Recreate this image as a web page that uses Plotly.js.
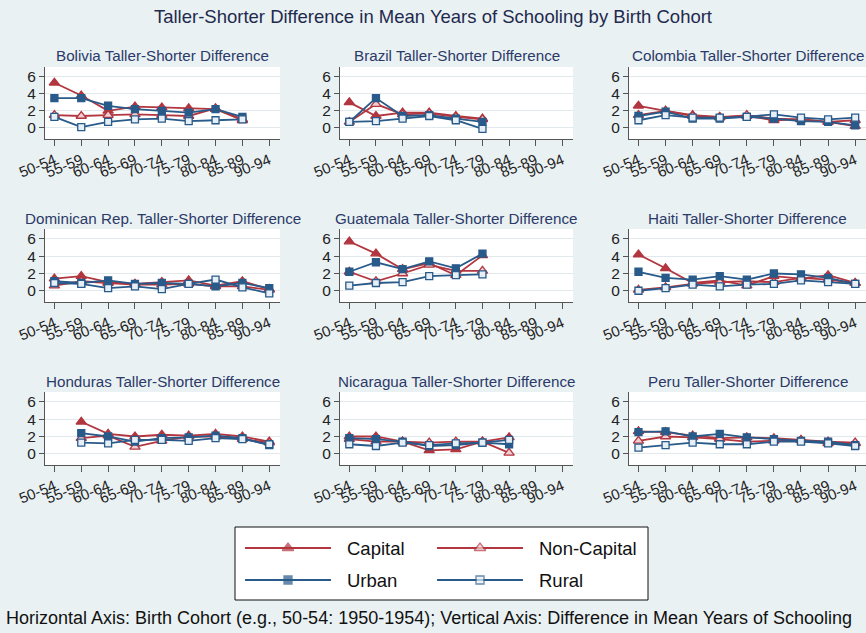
<!DOCTYPE html>
<html><head><meta charset="utf-8">
<script src="https://cdn.plot.ly/plotly-3.0.1.min.js"></script>
<style>html,body{margin:0;padding:0;background:#eaf1f3}</style>
</head><body><div id="chart" style="width:866px;height:633px"></div>
<script>
const cohorts = ['50-54','55-59','60-64','65-69','70-74','75-79','80-84','85-89','90-94'];
const countries = ['Bolivia','Brazil','Colombia','Dominican Rep.','Guatemala','Haiti','Honduras','Nicaragua','Peru'];
const seriesNames = ['Capital','Non-Capital','Urban','Rural'];
const N = null;

// values per country (rows follow `countries`), columns follow `cohorts`
const capitalValues = [
  [5.3, 3.8, 2.0, 2.5, 2.4, 2.3, 2.2, 0.9, N],
  [3.0, 1.4, 1.8, 1.8, 1.4, 1.1, N, N, N],
  [2.6, 2.0, 1.5, 1.3, 1.4, 0.9, 1.0, 0.7, 0.2],
  [1.4, 1.7, 1.0, 0.8, 1.0, 1.2, 0.6, 1.1, 0.2],
  [5.7, 4.3, 2.5, 3.2, 1.8, 4.1, N, N, N],
  [4.2, 2.6, 0.9, 1.2, 0.6, 1.7, 1.4, 1.8, 0.9],
  [N, 3.7, 2.3, 2.0, 2.2, 2.1, 2.3, 2.0, 1.4],
  [2.0, 2.0, 1.4, 0.4, 0.5, 1.4, 1.9, N, N],
  [2.6, 2.5, 2.1, 1.8, 1.9, 1.8, 1.6, 1.2, 1.2]
];
const nonCapitalValues = [
  [1.5, 1.4, 1.5, 1.6, 1.5, 1.4, 2.3, 1.0, N],
  [0.7, 2.8, 1.6, 1.7, 1.3, 1.0, N, N, N],
  [1.5, 2.0, 1.4, 1.2, 1.5, 1.1, 1.0, 0.7, 0.9],
  [0.6, 1.1, 0.9, 0.7, 0.7, 0.8, 0.5, 0.5, 0.1],
  [2.2, 1.1, 2.0, 3.0, 2.3, 2.3, N, N, N],
  [0.1, 0.4, 0.8, 1.0, 1.1, 1.0, 1.5, 1.3, 0.9],
  [N, 1.8, 2.1, 0.8, 1.5, 2.0, 2.0, 1.7, 1.3],
  [1.7, 1.4, 1.4, 1.3, 1.4, 1.4, 0.1, N, N],
  [1.5, 2.0, 1.9, 1.7, 1.4, 1.5, 1.6, 1.4, 1.3]
];
const urbanValues = [
  [3.5, 3.5, 2.6, 2.2, 2.0, 1.8, 2.2, 1.3, N],
  [0.7, 3.5, 1.4, 1.5, 1.1, 0.7, N, N, N],
  [1.4, 1.9, 1.1, 1.1, 1.3, 1.1, 0.8, 0.7, 0.3],
  [1.1, 0.9, 1.2, 0.8, 0.9, 0.8, 0.5, 0.9, 0.3],
  [2.2, 3.3, 2.5, 3.4, 2.6, 4.3, N, N, N],
  [2.2, 1.5, 1.3, 1.7, 1.3, 2.0, 1.9, 1.5, 0.8],
  [N, 2.4, 2.0, 1.4, 1.8, 1.9, 2.1, 1.8, 1.0],
  [1.8, 1.7, 1.4, 0.9, 1.0, 1.3, 1.1, N, N],
  [2.5, 2.6, 2.0, 2.3, 1.9, 1.7, 1.5, 1.4, 1.0]
];
const ruralValues = [
  [1.3, 0.1, 0.7, 1.0, 1.1, 0.8, 0.9, 1.0, N],
  [0.7, 0.8, 1.1, 1.4, 0.9, -0.1, N, N, N],
  [0.9, 1.5, 1.2, 1.2, 1.3, 1.6, 1.2, 1.0, 1.2],
  [0.9, 0.8, 0.3, 0.5, 0.2, 0.8, 1.3, 0.4, -0.3],
  [0.6, 0.9, 1.0, 1.7, 1.8, 1.9, N, N, N],
  [0.0, 0.3, 0.7, 0.5, 0.7, 0.8, 1.2, 1.0, 0.8],
  [N, 1.3, 1.2, 1.6, 1.6, 1.5, 1.8, 1.7, 1.1],
  [1.1, 0.9, 1.3, 1.0, 1.2, 1.3, 1.6, N, N],
  [0.7, 1.0, 1.3, 1.1, 1.1, 1.4, 1.4, 1.2, 0.9]
];
const seriesValues = [capitalValues, nonCapitalValues, urbanValues, ruralValues];

const RED = '#b2363f', BLUE = '#285a8a';
const styles = [
  {color: RED,  symbol: 'triangle-up', fill: RED,  size: 9},
  {color: RED,  symbol: 'triangle-up', fill: '#f0cfd3', size: 9},
  {color: BLUE, symbol: 'square', fill: BLUE, size: 7},
  {color: BLUE, symbol: 'square', fill: '#e6eef6', size: 7}
];

const W = 866, H = 633;
const colPx = [[45, 280], [340, 573], [629, 866]];
const rowPx = [[67, 139], [229, 302], [392, 465]];
const titleY = [55, 218, 381];

const traces = [];
const layout = {
  width: W, height: H,
  margin: {l: 0, r: 0, t: 0, b: 0},
  paper_bgcolor: '#eaf1f3',
  plot_bgcolor: '#ffffff',
  showlegend: false,
  font: {family: 'Liberation Sans, Arial, sans-serif', color: '#222'},
  title: {text: 'Taller-Shorter Difference in Mean Years of Schooling by Birth Cohort',
          x: 0.5, xanchor: 'center', y: 1 - 17 / H, yanchor: 'middle', yref: 'container',
          font: {size: 18.5, color: '#1e2a4e'}},
  annotations: [], shapes: []
};

countries.forEach((country, i) => {
  const r = Math.floor(i / 3), c = i % 3, n = i + 1;
  const xs = n === 1 ? 'x' : 'x' + n, ys = n === 1 ? 'y' : 'y' + n;
  const xk = n === 1 ? 'xaxis' : 'xaxis' + n, yk = n === 1 ? 'yaxis' : 'yaxis' + n;
  layout[xk] = {
    domain: [colPx[c][0] / W, colPx[c][1] / W], anchor: ys,
    type: 'category', categoryorder: 'array', categoryarray: cohorts,
    tickmode: 'array', tickvals: cohorts, ticktext: cohorts,
    range: [-0.35, 8.4], tickangle: -22,
    ticks: 'outside', ticklen: 6, tickcolor: '#555', tickwidth: 1,
    showline: true, linecolor: '#555', linewidth: 1,
    showgrid: false, zeroline: false, fixedrange: true,
    tickfont: {size: 15, color: '#222'}
  };
  layout[yk] = {
    domain: [1 - rowPx[r][1] / H, 1 - rowPx[r][0] / H], anchor: xs,
    range: [-1.3, 7.15], tickmode: 'array', tickvals: [0, 2, 4, 6],
    ticks: 'outside', ticklen: 5, tickcolor: '#555', tickwidth: 1,
    showline: true, linecolor: '#555', linewidth: 1,
    showgrid: true, gridcolor: '#e2e9ed', gridwidth: 1,
    zeroline: false, fixedrange: true,
    tickfont: {size: 15.5, color: '#222'}
  };
  seriesValues.forEach((vals, s) => {
    const st = styles[s];
    traces.push({
      type: 'scatter', mode: 'lines+markers', name: seriesNames[s],
      x: cohorts, y: vals[i], xaxis: xs, yaxis: ys,
      line: {color: st.color, width: 1.8},
      marker: {symbol: st.symbol, size: st.size, color: st.fill, line: {color: st.color, width: 1.3}},
      connectgaps: false, hoverinfo: 'skip'
    });
  });
  layout.annotations.push({
    text: country + ' Taller-Shorter Difference', xref: 'paper', yref: 'paper',
    x: (colPx[c][0] + colPx[c][1]) / 2 / W, y: 1 - titleY[r] / H,
    xanchor: 'center', yanchor: 'middle', showarrow: false,
    font: {size: 15.2, color: '#2b3a68'}
  });
});

// legend box drawn with the library: an extra hidden axis pair
const LB = {x0: 235, x1: 648, y0: 527, y1: 600};
layout.xaxis10 = {domain: [LB.x0 / W, LB.x1 / W], anchor: 'y10', range: [0, LB.x1 - LB.x0], visible: false, fixedrange: true};
layout.yaxis10 = {domain: [1 - LB.y1 / H, 1 - LB.y0 / H], anchor: 'x10', range: [LB.y1 - LB.y0, 0], visible: false, fixedrange: true};
layout.shapes.push({type: 'rect', xref: 'paper', yref: 'paper',
  x0: LB.x0 / W, x1: LB.x1 / W, y0: 1 - LB.y1 / H, y1: 1 - LB.y0 / H,
  fillcolor: 'rgba(0,0,0,0)', line: {color: '#111', width: 1}, layer: 'above'});
const legendSlots = [[10, 21], [202, 21], [10, 53], [202, 53]];
seriesNames.forEach((name, s) => {
  const st = styles[s], [lx, ly] = legendSlots[s];
  traces.push({
    type: 'scatter', mode: 'lines+markers', xaxis: 'x10', yaxis: 'y10', name: name,
    x: [lx, lx + 43, lx + 86], y: [ly, ly, ly],
    line: {color: st.color, width: 1.8},
    marker: {symbol: st.symbol, size: [0, st.size + 1, 0], color: st.fill, line: {color: st.color, width: [0, 1.3, 0]}},
    hoverinfo: 'skip'
  });
  layout.annotations.push({text: name, xref: 'x10', yref: 'y10', x: lx + 100, y: ly,
    xanchor: 'left', yanchor: 'middle', showarrow: false, font: {size: 18.5, color: '#111'}});
});

layout.annotations.push({
  text: 'Horizontal Axis: Birth Cohort (e.g., 50-54: 1950-1954); Vertical Axis: Difference in Mean Years of Schooling',
  xref: 'paper', yref: 'paper', x: 4 / W, y: 1 - 618 / H, xanchor: 'left', yanchor: 'middle',
  showarrow: false, font: {size: 18, color: '#111'}
});

Plotly.newPlot('chart', traces, layout, {displayModeBar: false, staticPlot: true});
</script></body></html>
